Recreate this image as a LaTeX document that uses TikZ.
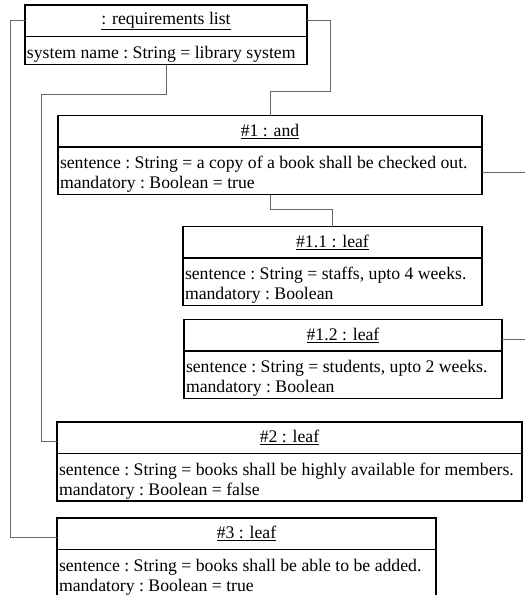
\documentclass[tikz,border=0pt]{standalone}
\usepackage{fontspec}
\setmainfont{Liberation Serif}
\usepackage{tikz}
\usetikzlibrary{positioning}

\begin{document}
\begin{tikzpicture}[x=1pt,y=-1pt,
  objname/.style={draw,line width=1.1pt,anchor=north west,inner sep=0pt,outer sep=0pt,minimum height=31.5pt,minimum width=#1},
  objattr/.style={draw,line width=1.1pt,anchor=north west,inner xsep=2pt,inner ysep=0pt,outer sep=0pt,align=left,text width=#1-4pt,minimum height=47.5pt,
    execute at begin node={\frenchspacing\spaceskip=0pt\xspaceskip=0pt\leavevmode\rule{0pt}{20pt}}},
  link/.style={line width=0.9pt,black!60},
  font=\fontsize{17.7pt}{20pt}\selectfont]
  \useasboundingbox (0,0) rectangle (525,595);
  \clip (0,0) rectangle (525,595);
  \node[objname=282pt] (req) at (25,5) {\underline{: requirements list}};
  \node[objattr=282pt,minimum height=28pt] (req-a) at (req.south west) {system name : String = library system};
  \node[objname=424pt] [below right=51pt and 33pt of req-a.south west] (and1) {\underline{\#1 : and}};
  \node[objattr=424pt] (and1-a) at (and1.south west) {sentence : String = a copy of a book shall be checked out.\\mandatory : Boolean = true};
  \node[objname=299pt] [below right=32pt and 125pt of and1-a.south west] (leaf11) {\underline{\#1.1 : leaf}};
  \node[objattr=299pt] (leaf11-a) at (leaf11.south west) {sentence : String = staffs, upto 4 weeks.\\mandatory : Boolean};
  \node[objname=318pt] [below right=14pt and 1pt of leaf11-a.south west] (leaf12) {\underline{\#1.2 : leaf}};
  \node[objattr=318pt] (leaf12-a) at (leaf12.south west) {sentence : String = students, upto 2 weeks.\\mandatory : Boolean};
  \node[objname=465pt] [below right=23.5pt and -127pt of leaf12-a.south west] (leaf2) {\underline{\#2 : leaf}};
  \node[objattr=465pt] (leaf2-a) at (leaf2.south west) {sentence : String = books shall be highly available for members.\\mandatory : Boolean = false};
  \node[objname=379pt] [below right=17pt and 0pt of leaf2-a.south west] (leaf3) {\underline{\#3 : leaf}};
  \node[objattr=379pt] (leaf3-a) at (leaf3.south west) {sentence : String = books shall be able to be added.\\mandatory : Boolean = true};
  \coordinate (rim) at (525,0);

  \draw[link] (req.east) -| (330,91) -| (and1.north);
  \draw[link] (req-a.south) |- (41,94) |- ([yshift=-4pt]leaf2.west);
  \draw[link] (req.west) -- ++(-15,0) |- ([yshift=-4pt]leaf3.west);
  \draw[link] (and1-a.south) -- ++(0,15) -| (leaf11.north);
  \draw[link] ([yshift=-2pt]and1-a.east) -- ([yshift=-2pt]and1-a.east -| rim);
  \draw[link] ([yshift=-4pt]leaf12.east) -- ([yshift=-4pt]leaf12.east -| rim);
\end{tikzpicture}
\end{document}
